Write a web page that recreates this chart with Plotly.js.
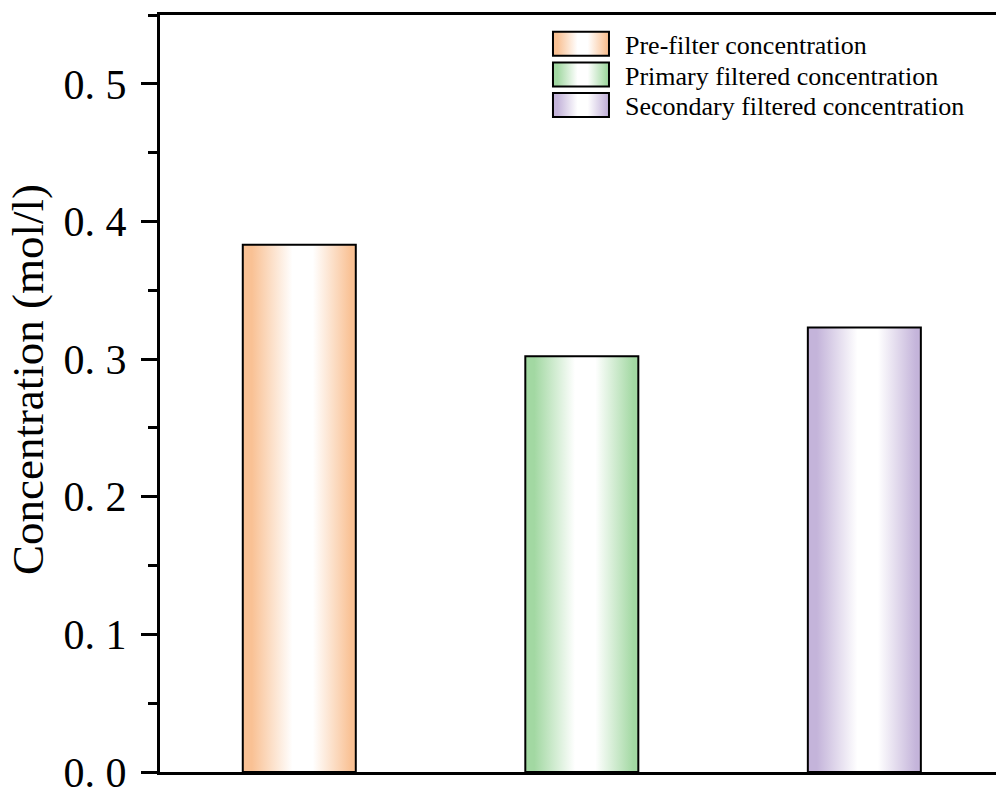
<!DOCTYPE html>
<html>
<head>
<meta charset="utf-8">
<script src="https://cdn.plot.ly/plotly-3.0.1.min.js"></script>
<style>
html,body{margin:0;padding:0;background:#fff;overflow:hidden;}
#chart{width:996px;height:794px;}
</style>
</head>
<body>
<div id="chart"></div>
<script>
// ---- data ----
var categories = ["Pre-filter", "Primary filtered", "Secondary filtered"];
var seriesNames = ["Pre-filter concentration", "Primary filtered concentration", "Secondary filtered concentration"];
var values = [0.383, 0.302, 0.323];
var edgeColors = ["#F9C194", "#A2D8A2", "#C4B4DA"];
var yTickVals = [0, 0.1, 0.2, 0.3, 0.4, 0.5];
var yTickText = ["0. 0", "0. 1", "0. 2", "0. 3", "0. 4", "0. 5"];
var yTitle = "Concentration (mol/l)";

var FONT = "Liberation Serif, Times New Roman, serif";

var data = [];
for (var i = 0; i < categories.length; i++) {
  data.push({
    type: "bar",
    name: seriesNames[i],
    x: [categories[i]],
    y: [values[i]],
    width: 0.4,
    marker: {color: edgeColors[i], line: {color: "#000", width: 2}},
    hoverinfo: "skip"
  });
}

var layout = {
  width: 996, height: 794,
  margin: {l: 160, r: 0, t: 15, b: 22, pad: 0},
  paper_bgcolor: "#fff", plot_bgcolor: "#fff",
  barmode: "overlay",
  showlegend: true,
  legend: {
    x: 0.4605, xanchor: "left", y: 0.993, yanchor: "top",
    bgcolor: "rgba(0,0,0,0)", borderwidth: 0,
    font: {family: FONT, size: 26, color: "#000"},
    itemwidth: 70, tracegroupgap: 0
  },
  xaxis: {
    type: "category",
    range: [-0.493, 2.466],
    showticklabels: false, ticks: "",
    showgrid: false, zeroline: false,
    showline: true, linecolor: "#000", linewidth: 3, mirror: true
  },
  yaxis: {
    range: [0, 0.55],
    tickvals: yTickVals, ticktext: yTickText,
    ticks: "outside", ticklen: 16, tickwidth: 3, tickcolor: "#000",
    ticklabelstandoff: 6,
    ticklabeloverflow: "allow",
    minor: {dtick: 0.05, ticks: "outside", ticklen: 9, tickwidth: 3, tickcolor: "#000"},
    tickfont: {family: FONT, size: 42, color: "#000"},
    showgrid: false, zeroline: false,
    showline: true, linecolor: "#000", linewidth: 3, mirror: false,
    title: {text: yTitle, font: {family: FONT, size: 45, color: "#000"}, standoff: 6}
  }
};

function addGradient(defs, id, edge) {
  var ns = "http://www.w3.org/2000/svg";
  var g = document.createElementNS(ns, "linearGradient");
  g.setAttribute("id", id);
  g.setAttribute("x1", "0"); g.setAttribute("y1", "0");
  g.setAttribute("x2", "1"); g.setAttribute("y2", "0");
  var stops = [[0, edge], [0.08, edge], [0.44, "#ffffff"], [0.62, "#ffffff"], [0.96, edge], [1, edge]];
  stops.forEach(function (s) {
    var st = document.createElementNS(ns, "stop");
    st.setAttribute("offset", s[0]);
    st.setAttribute("stop-color", s[1]);
    g.appendChild(st);
  });
  defs.appendChild(g);
}

Plotly.newPlot("chart", data, layout, {staticPlot: true, responsive: false}).then(function (gd) {
  var svg = gd.querySelector("svg.main-svg");
  var defs = svg.querySelector("defs");
  if (!defs) { defs = document.createElementNS("http://www.w3.org/2000/svg", "defs"); svg.insertBefore(defs, svg.firstChild); }
  for (var i = 0; i < categories.length; i++) addGradient(defs, "grad" + i, edgeColors[i]);

  var barTraces = gd.querySelectorAll(".barlayer .trace");
  barTraces.forEach(function (t, i) {
    t.querySelectorAll("path").forEach(function (p) { p.style.fill = "url(#grad" + i + ")"; });
  });

  // y title slight shift to match reference placement
  var yt = gd.querySelector("text.ytitle");
  if (yt) yt.setAttribute("transform", "translate(0,-14) " + (yt.getAttribute("transform") || ""));

  var sb = gd.querySelector(".legend .scrollbox");
  if (sb) sb.removeAttribute("clip-path");

  var items = gd.querySelectorAll(".legend .traces");
  var y0 = null;
  items.forEach(function (item, i) {
    var tr = item.getAttribute("transform") || "";
    var m = /translate\(\s*([-\d.]+)[ ,]+([-\d.]+)\s*\)/.exec(tr);
    var ix = m ? parseFloat(m[1]) : 0, iy = m ? parseFloat(m[2]) : 0;
    if (y0 === null) y0 = iy;
    item.setAttribute("transform", "translate(" + ix + "," + (y0 + i * 30.7) + ")");

    var txt = item.querySelector("text.legendtext");
    var p = item.querySelector(".legendpoints path");
    if (!txt || !p) return;
    var textX = parseFloat(txt.getAttribute("x")) || 40;
    var off = p.parentNode.getCTM().e - item.getCTM().e;
    var w = 56, h = 24;
    var right = textX - 16 - off, left = right - w;
    p.removeAttribute("transform");
    p.setAttribute("d", "M" + right + "," + (h / 2) + "H" + left + "V" + (-h / 2) + "H" + right + "Z");
    p.style.strokeWidth = "2px";
    p.style.stroke = "#000";
    p.style.fill = "url(#grad" + i + ")";
  });
});
</script>
</body>
</html>
